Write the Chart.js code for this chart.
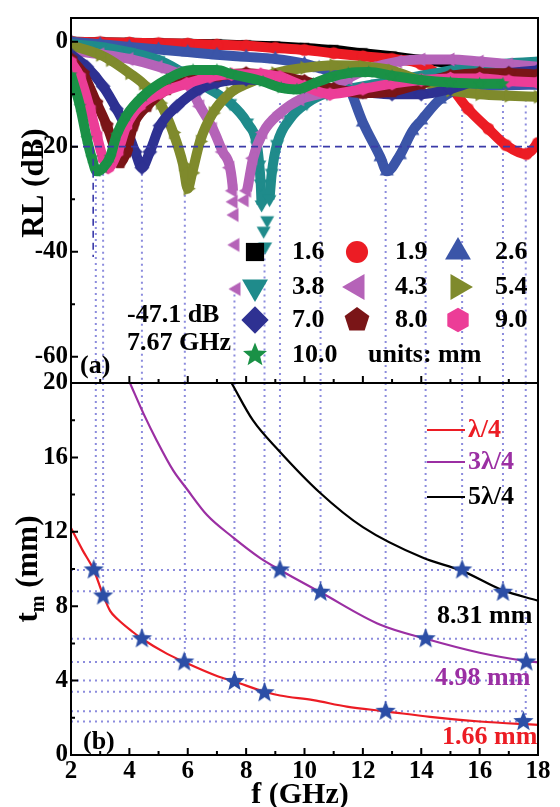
<!DOCTYPE html>
<html>
<head>
<meta charset="utf-8">
<script src="https://cdn.jsdelivr.net/npm/chart.js@4.4.1/dist/chart.umd.min.js"></script>
<style>
  html, body { margin: 0; padding: 0; background: #fff; }
  #wrap { position: relative; width: 560px; height: 807px; }
  #wrap canvas { position: absolute; left: 0; top: 0; }
</style>
</head>
<body>
<div id="wrap">
  <canvas id="rl" width="560" height="807"></canvas>
  <canvas id="tm" width="560" height="807"></canvas>
</div>
<script>
// Two stacked panels: (a) reflection loss vs frequency for ten thicknesses,
// (b) quarter-wavelength matching thickness vs frequency.

// ---------- Data ----------

const THICKNESS = ["1.6", "1.9", "2.6", "3.8", "4.3", "5.4", "7.0", "8.0", "9.0", "10.0"];

// [f (GHz), RL (dB)]
const RL_16 = [[2,0],[3,-0.1],[4,-0.2],[5,-0.3],[6,-0.4],[7,-0.5],[8,-0.7],[9,-0.9],[10,-1.2],[11,-1.6],[12,-2.2],[13,-2.8],[14,-3.5],[15,-4.1],[16,-4.7],[17,-5.2],[18,-5.7]];
const RL_19 = [[2,0],[3,-0.1],[4,-0.2],[5,-0.3],[6,-0.4],[7,-0.6],[8,-0.8],[9,-1.2],[10,-1.6],[11,-2.2],[12,-2.8],[13,-3.3],[14,-4.3],[14.9,-7.9],[15.6,-12.8],[16.3,-16.6],[16.9,-19.7],[17.6,-21.4],[18,-19.3]];
const RL_26 = [[2,0],[3,-0.5],[4,-1],[5,-1.5],[6,-2],[7,-2.5],[8,-2.9],[9,-3.3],[10,-4.2],[10.5,-5],[10.9,-5.8],[11.45,-7.9],[12,-15.4],[12.6,-22],[12.82,-24.7],[13.27,-21.6],[13.7,-17],[14,-15],[14.64,-11],[15.4,-8.8],[16,-8.5],[17,-8.3],[18,-8.2]];
const RL_38 = [[2,-0.5],[3,-1],[4,-2],[5,-3.5],[5.7,-5.5],[6.42,-8],[7.45,-11.7],[8.03,-15.4],[8.37,-19.7],[8.45,-23.4],[8.5,-27],[8.53,-31],[8.6,-36],[8.65,-39],[8.72,-34],[8.8,-30],[8.88,-25],[9.06,-19.5],[9.5,-14.7],[10.08,-11.7],[10.77,-9.8],[11.5,-9],[12.5,-8],[13.5,-7],[14.5,-6],[15.5,-5],[16.5,-4.4],[17.3,-4],[18,-3.8]];
const RL_43 = [[2,-1.7],[3,-2.4],[4,-3.3],[5,-4.8],[5.6,-6],[6,-8],[6.42,-12.3],[6.86,-16.6],[7.2,-21],[7.45,-24],[7.55,-28.4],[7.57,-30.5],[7.6,-33],[7.63,-38.7],[7.67,-47.1],[7.95,-30.2],[8.03,-28.4],[8.24,-22.2],[8.58,-17.3],[9.16,-13.6],[9.85,-11],[10.77,-9.5],[11.5,-7],[12.3,-5],[13.2,-3.8],[14,-3.4],[15,-3.4],[16,-3.8],[17,-4.3],[18,-4.8]];
const RL_54 = [[2,-0.7],[3,-2.5],[3.34,-3.5],[4,-6],[4.47,-8],[5.05,-11.7],[5.5,-17.3],[5.84,-23.4],[6,-28],[6.15,-25],[6.42,-19],[6.86,-13.6],[7.45,-9.8],[8.03,-8],[9,-6],[10,-5],[11,-4.5],[12,-4.7],[13,-5.5],[14,-7.5],[15,-9.3],[16,-10],[17,-10.3],[18,-10.5]];
const RL_70 = [[2,-2.5],[2.54,-4.8],[3.1,-8.5],[3.56,-12.8],[3.9,-16.6],[4.2,-21],[4.43,-24],[4.7,-21],[5.05,-16],[5.63,-12.3],[6.42,-9],[7,-7.8],[8,-7.2],[9,-7.6],[10,-8.5],[11,-9.2],[12,-9.6],[13,-10],[14,-10],[15,-9],[16,-7.2],[17,-6],[18,-5.5]];
const RL_80 = [[2,-3.3],[2.42,-6.1],[2.88,-11.7],[3.23,-16],[3.5,-20.3],[3.68,-23],[3.9,-21],[4.13,-16],[4.6,-12.3],[5.28,-9.1],[6.18,-7.2],[7,-6.5],[8,-6],[9,-6.5],[10,-7.5],[11,-9],[12,-9.8],[13,-9.5],[14,-8],[15,-6.5],[16,-6],[17,-6],[18,-6.3]];
const RL_90 = [[2,-3.9],[2.31,-6.7],[2.65,-12.8],[2.88,-17.8],[3.1,-22.2],[3.27,-24],[3.6,-21],[3.9,-16],[4.36,-12.2],[5.05,-9.8],[5.97,-8],[6.76,-6.7],[7.5,-6.2],[8.5,-6.2],[9.16,-6.7],[10,-8.5],[10.87,-10],[12,-9],[13,-8],[14,-7.3],[15,-7],[16,-7],[17,-7.5],[18,-7.8]];
const RL_100 = [[2,-6.3],[2.31,-12.3],[2.54,-18.4],[2.71,-22.1],[2.88,-24.7],[3.1,-24],[3.34,-22],[3.56,-17.8],[3.9,-14.1],[4.47,-10.4],[5.28,-7.2],[6.18,-5.4],[7,-5.4],[7.45,-6.1],[8.58,-7.6],[9.2,-8.8],[9.74,-9.1],[10.3,-8],[10.87,-6.8],[11.5,-6],[12.2,-5.8],[13,-6.5],[14,-7.3],[15,-7.8],[16,-8],[16.8,-8]];
const RL_SERIES = [RL_16, RL_19, RL_26, RL_38, RL_43, RL_54, RL_70, RL_80, RL_90, RL_100];

const RL_MIN = -65, RL_MAX = 4.5;
const RL_TICKS = [-60, -40, -20, 0];
const RL_MARK = -20;              // dashed -20 dB reference line
const RL_MARK_F = 2.76, RL_MARK_LOW = -41;

// dotted guides: frequency, RL where the guide starts (a), t_m where it stops (b)
const GUIDE_F       = [2.85, 3.1, 4.43, 5.9, 7.6, 8.63, 9.16, 10.55, 12.78, 14.15, 15.4, 16.8, 17.58];
const GUIDE_RL_FROM = [-25, -24, -24, -28, -47, -39, -11.7, -11.7, -25, -11.7, -11.7, -9.8, -11];
const GUIDE_TM_TO   = [9.95, 8.55, 6.25, 5.0, 3.95, 3.35, 9.95, 8.75, 2.35, 6.25, 9.95, 8.75, 1.8];

// horizontal dotted levels in (b) and where they end
const MATCH_T   = [9.95, 8.8, 6.25, 5.0, 4.0, 3.4, 2.35, 1.8];
const MATCH_END = [17.6, 17.6, 17.6, 17.6, 17.6, 9.0, 17.6, 17.6];

// [f (GHz), t_m (mm)]
const QUARTER_1 = [[2,12.2],[2.4,11.0],[2.78,9.95],[3.1,8.6],[3.34,7.75],[3.6,7.3],[4.13,6.6],[4.43,6.25],[5.28,5.45],[5.88,5.0],[7.0,4.25],[7.6,3.95],[8.63,3.4],[9.16,3.2],[10.3,2.95],[11.45,2.6],[12.78,2.35],[14.3,2.05],[16,1.8],[18,1.62]];
const QUARTER_3 = [[4.02,20],[4.5,18.3],[4.94,16.9],[5.5,15.3],[5.97,14.3],[6.66,12.9],[7.55,11.7],[8.47,10.6],[9.16,9.95],[10.55,8.75],[12.6,7.0],[14.15,6.25],[16,5.5],[17.6,5.05],[18,4.98]];
const QUARTER_5 = [[7.5,20],[8.23,18.0],[9.1,16.4],[10.53,14.1],[12.0,12.25],[14.06,10.6],[15.4,9.9],[16.8,8.85],[18,8.3]];

const STARS_1 = [[2.78,9.95],[3.1,8.55],[4.43,6.25],[5.88,5.0],[7.6,3.95],[8.63,3.35],[12.78,2.35],[17.5,1.8]];
const STARS_3 = [[9.16,9.95],[10.55,8.75],[14.15,6.25],[17.6,5.0]];
const STARS_5 = [[15.4,9.95],[16.8,8.75]];

const TM_MIN = 0, TM_MAX = 20;

// ---------- Styles ----------

const SERIES_COLORS = ["#000000", "#ec1c24", "#3b55a8", "#1f8b8b", "#b563b8", "#7f8a2c", "#2e3192", "#7a1517", "#ec3d97", "#1a9146"];
const SERIES_SHAPES = ["square", "circle", "triUp", "triDown", "triLeft", "triRight", "diamond", "pentagon", "hexagon", "star"];
const DEEP_CUT = [-99, -99, -99, -31, -30, -99, -99, -99, -99, -99]; // below this only markers show
const GUIDE_COLOR = "rgba(120,120,215,0.85)";
const MARK_COLOR = "#3a3aa8";
const STAR_COLOR = "#2c4ea6";
const FONT = '"Liberation Serif", "DejaVu Serif", serif';

Chart.defaults.font.family = FONT;
Chart.defaults.font.weight = "bold";
Chart.defaults.color = "#000";

// ---------- Marker shapes ----------

function shapePath(ctx, shape, x, y, r) {
  ctx.beginPath();
  const poly = (n, rot, rad) => {
    for (let k = 0; k < n; k++) {
      const a = rot + k * 2 * Math.PI / n;
      const px = x + rad * Math.cos(a), py = y + rad * Math.sin(a);
      if (k) ctx.lineTo(px, py); else ctx.moveTo(px, py);
    }
    ctx.closePath();
  };
  switch (shape) {
    case "square":   ctx.rect(x - r * 0.7, y - r * 0.7, r * 1.4, r * 1.4); break;
    case "circle":   ctx.arc(x, y, r * 0.85, 0, Math.PI * 2); break;
    case "triUp":    poly(3, -Math.PI / 2, r * 1.15); break;
    case "triDown":  poly(3, Math.PI / 2, r * 1.15); break;
    case "triLeft":  poly(3, Math.PI, r * 1.15); break;
    case "triRight": poly(3, 0, r * 1.15); break;
    case "diamond":  poly(4, -Math.PI / 2, r * 1.05); break;
    case "pentagon": poly(5, -Math.PI / 2, r); break;
    case "hexagon":  poly(6, -Math.PI / 2, r * 0.95); break;
    case "star":
      for (let k = 0; k < 10; k++) {
        const a = -Math.PI / 2 + k * Math.PI / 5;
        const rad = k % 2 ? r * 0.42 : r * 0.97;
        const px = x + rad * Math.cos(a), py = y + rad * Math.sin(a);
        if (k) ctx.lineTo(px, py); else ctx.moveTo(px, py);
      }
      ctx.closePath();
      break;
  }
}

function markerCanvas(shape, color, r) {
  const c = document.createElement("canvas");
  const s = Math.ceil(r * 2.4) + 2;
  c.width = s; c.height = s;
  const ctx = c.getContext("2d");
  ctx.fillStyle = color;
  shapePath(ctx, shape, s / 2, s / 2, r);
  ctx.fill();
  return c;
}

const pts = arr => arr.map(([x, y]) => ({ x, y }));

function guide(data, color, dash, width, order) {
  return {
    data, borderColor: color, borderWidth: width, borderDash: dash,
    pointRadius: 0, tension: 0, order, fill: false,
  };
}

// ---------- Shared plugins ----------

// Box around the plot area plus inward tick marks.
function framePlugin(yFrom, yTo, yStep, yMajor) {
  return {
    id: "frame",
    afterDatasetsDraw(chart) {
      const { ctx, chartArea: a, scales } = chart;
      ctx.save();
      ctx.strokeStyle = "#000";
      ctx.lineWidth = 2;
      ctx.strokeRect(a.left, a.top, a.right - a.left, a.bottom - a.top);
      ctx.beginPath();
      for (let f = 2; f <= 18; f++) {
        const px = scales.x.getPixelForValue(f);
        const len = f % 2 === 0 ? 7 : 4;
        ctx.moveTo(px, a.bottom);
        ctx.lineTo(px, a.bottom - len);
      }
      for (let v = yFrom; v <= yTo + 1e-9; v += yStep) {
        const py = scales.y.getPixelForValue(v);
        const len = Math.abs(v % yMajor) < 1e-9 ? 7 : 4;
        ctx.moveTo(a.left, py);
        ctx.lineTo(a.left + len, py);
      }
      ctx.stroke();
      ctx.restore();
    },
  };
}

function text(ctx, s, x, y, size, color, align) {
  ctx.font = `bold ${size}px ${FONT}`;
  ctx.fillStyle = color || "#000";
  ctx.textAlign = align || "left";
  ctx.textBaseline = "middle";
  ctx.fillText(s, x, y);
}

// ---------- Panel (a) ----------

const LEG_MARK_X = [255, 357, 458];
const LEG_TEXT_X = [292, 395, 495];
const LEG_ROW_Y = [252, 287, 320, 355];

const panelA = {
  id: "panelA",
  afterDraw(chart) {
    const ctx = chart.ctx;
    ctx.save();
    THICKNESS.forEach((t, i) => {
      const row = Math.floor(i / 3), col = i % 3;
      ctx.fillStyle = SERIES_COLORS[i];
      shapePath(ctx, SERIES_SHAPES[i], LEG_MARK_X[col], LEG_ROW_Y[row], 13);
      ctx.fill();
      text(ctx, t, LEG_TEXT_X[col], LEG_ROW_Y[row], 26);
    });
    text(ctx, "units: mm", 368, LEG_ROW_Y[3], 26);
    text(ctx, "-47.1 dB", 127, 315, 26);
    text(ctx, "7.67 GHz", 127, 343, 26);
    text(ctx, "(a)", 80, 366, 26);

    ctx.translate(43, 183);
    ctx.rotate(-Math.PI / 2);
    ctx.font = `bold 31px ${FONT}`;
    ctx.textAlign = "center";
    ctx.textBaseline = "alphabetic";
    ctx.fillText("RL (dB)", 0, 0);
    ctx.restore();
  },
};

const rlDatasets = [];
GUIDE_F.forEach((f, k) => {
  rlDatasets.push(guide(pts([[f, GUIDE_RL_FROM[k]], [f, RL_MIN]]), GUIDE_COLOR, [2, 4], 2, 30));
});
RL_SERIES.forEach((series, i) => {
  const color = SERIES_COLORS[i];
  const cut = DEEP_CUT[i];
  rlDatasets.push({
    label: THICKNESS[i] + " mm",
    data: pts(series),
    borderColor: color,
    backgroundColor: color,
    borderWidth: 10,
    pointStyle: markerCanvas(SERIES_SHAPES[i], color, 7),
    pointRadius: 6,
    cubicInterpolationMode: "monotone",
    order: 20 - i,
    segment: {
      borderColor: c => (c.p0.parsed.y < cut || c.p1.parsed.y < cut) ? "rgba(0,0,0,0)" : color,
    },
  });
});
rlDatasets.push(guide(pts([[2, RL_MARK], [18, RL_MARK]]), MARK_COLOR, [7, 5], 1.6, 0));
rlDatasets.push(guide(pts([[RL_MARK_F, RL_MARK], [RL_MARK_F, RL_MARK_LOW]]), MARK_COLOR, [7, 5], 1.6, 0));

new Chart(document.getElementById("rl"), {
  type: "line",
  data: { datasets: rlDatasets },
  options: {
    responsive: false,
    animation: false,
    events: [],
    layout: { padding: { top: 10, right: 22, bottom: 424, left: 0 } },
    plugins: { legend: { display: false }, tooltip: { enabled: false } },
    scales: {
      x: { type: "linear", min: 2, max: 18, display: false },
      y: {
        type: "linear", min: RL_MIN, max: RL_MAX,
        afterBuildTicks: s => { s.ticks = RL_TICKS.map(value => ({ value })); },
        afterFit: s => { s.width = 71; },
        grid: { display: false, drawTicks: false },
        border: { display: false },
        ticks: { font: { size: 25, weight: "bold" }, color: "#000", padding: 3 },
      },
    },
  },
  plugins: [framePlugin(-60, 0, 10, 20), panelA],
});

// ---------- Panel (b) ----------

const panelB = {
  id: "panelB",
  afterDraw(chart) {
    const ctx = chart.ctx;
    ctx.save();
    const legend = [["λ/4", SERIES_COLORS[1], 430], ["3λ/4", "#9b2fa3", 462], ["5λ/4", "#000", 497]];
    legend.forEach(([label, color, y]) => {
      ctx.strokeStyle = color;
      ctx.lineWidth = 2;
      ctx.beginPath();
      ctx.moveTo(427, y);
      ctx.lineTo(465, y);
      ctx.stroke();
      text(ctx, label, 468, y, 26, color);
    });
    text(ctx, "8.31 mm", 437, 616, 26, "#000");
    text(ctx, "4.98 mm", 435, 678, 26, "#9b2fa3");
    text(ctx, "1.66 mm", 442, 737, 26, SERIES_COLORS[1]);
    text(ctx, "(b)", 83, 742, 26);

    ctx.font = `bold 30px ${FONT}`;
    ctx.textAlign = "center";
    ctx.textBaseline = "alphabetic";
    ctx.fillStyle = "#000";
    ctx.fillText("f (GHz)", 300, 803);

    ctx.translate(37, 569);
    ctx.rotate(-Math.PI / 2);
    ctx.textAlign = "left";
    ctx.font = `bold 31px ${FONT}`;
    const wT = ctx.measureText("t").width;
    const wRest = ctx.measureText(" (mm)").width;
    ctx.font = `bold 20px ${FONT}`;
    const wM = ctx.measureText("m").width;
    let x0 = -(wT + wM + wRest) / 2;
    ctx.font = `bold 31px ${FONT}`;
    ctx.fillText("t", x0, 0);
    ctx.font = `bold 20px ${FONT}`;
    ctx.fillText("m", x0 + wT, 7);
    ctx.font = `bold 31px ${FONT}`;
    ctx.fillText(" (mm)", x0 + wT + wM, 0);
    ctx.restore();
  },
};

const starStyle = markerCanvas("star", STAR_COLOR, 11);
const tmDatasets = [];
GUIDE_F.forEach((f, k) => {
  tmDatasets.push(guide(pts([[f, TM_MAX], [f, GUIDE_TM_TO[k]]]), GUIDE_COLOR, [2, 4], 2, 30));
});
MATCH_T.forEach((t, k) => {
  tmDatasets.push(guide(pts([[2, t], [MATCH_END[k], t]]), GUIDE_COLOR, [2, 4], 2, 30));
});
[[QUARTER_1, SERIES_COLORS[1]], [QUARTER_3, "#9b2fa3"], [QUARTER_5, "#000"]].forEach(([curve, color]) => {
  tmDatasets.push({
    data: pts(curve), borderColor: color, borderWidth: 2.2,
    pointRadius: 0, cubicInterpolationMode: "monotone", order: 10,
  });
});
[STARS_1, STARS_3, STARS_5].forEach(stars => {
  tmDatasets.push({
    data: pts(stars), showLine: false,
    pointStyle: starStyle, pointRadius: 10, order: 0,
  });
});

new Chart(document.getElementById("tm"), {
  type: "line",
  data: { datasets: tmDatasets },
  options: {
    responsive: false,
    animation: false,
    events: [],
    layout: { padding: { top: 383, right: 22, bottom: 0, left: 0 } },
    plugins: { legend: { display: false }, tooltip: { enabled: false } },
    scales: {
      x: {
        type: "linear", min: 2, max: 18,
        afterFit: s => { s.height = 52; },
        grid: { display: false, drawTicks: false },
        border: { display: false },
        ticks: { stepSize: 2, font: { size: 25, weight: "bold" }, color: "#000", padding: 2, maxRotation: 0 },
      },
      y: {
        type: "linear", min: TM_MIN, max: TM_MAX,
        afterFit: s => { s.width = 71; },
        grid: { display: false, drawTicks: false },
        border: { display: false },
        ticks: { stepSize: 4, font: { size: 25, weight: "bold" }, color: "#000", padding: 3 },
      },
    },
  },
  plugins: [framePlugin(0, 20, 2, 4), panelB],
});
</script>
</body>
</html>
